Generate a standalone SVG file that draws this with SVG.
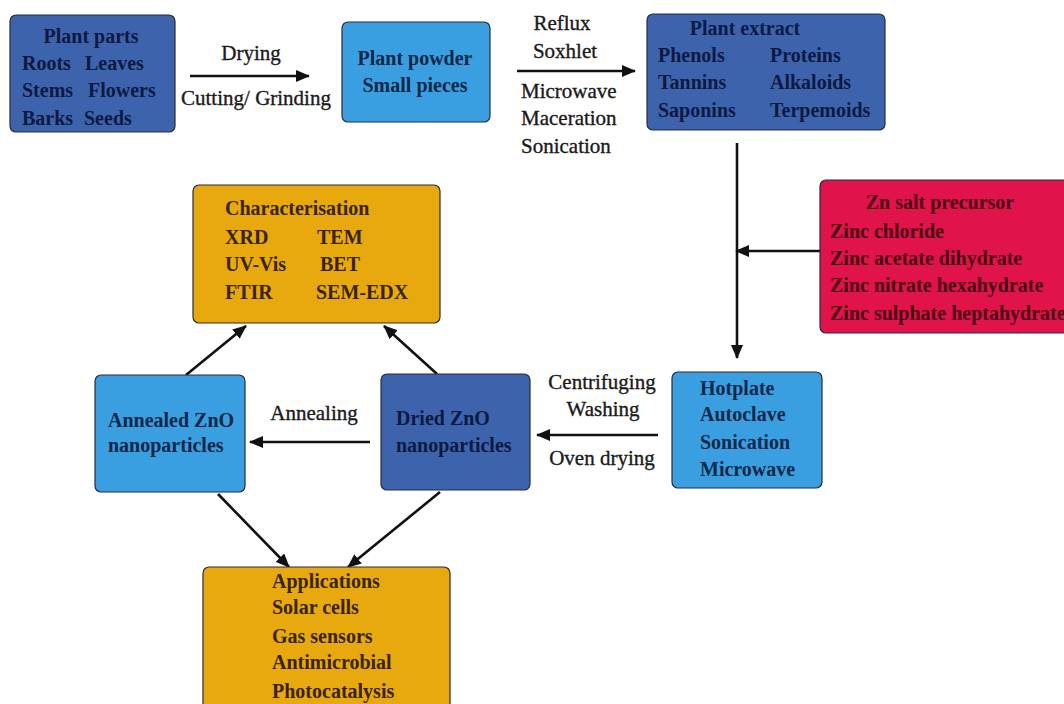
<svg xmlns="http://www.w3.org/2000/svg" width="1064" height="704" viewBox="0 0 1064 704">
<defs>
<marker id="ah" viewBox="0 0 14 12" refX="13" refY="6" markerWidth="14" markerHeight="12" markerUnits="userSpaceOnUse" orient="auto">
<path d="M0,0 L14,6 L0,12 Z" fill="#111"/>
</marker>
<style>
.box{stroke:#2a2a3a;stroke-width:1.2}
.db{fill:#3d63ad}
.lb{fill:#3a9fe0}
.gd{fill:#e8a90e}
.rd{fill:#e0134b}
text{font-family:"Liberation Serif","Times New Roman",serif;font-size:20px}
.bt{font-weight:bold}
.tdb{fill:#0c1a42}
.tlb{fill:#0c2748}
.tgd{fill:#3a2300}
.trd{fill:#4a0012}
.lab{fill:#1a1a1a;font-size:21px;stroke:#1a1a1a;stroke-width:0.35}
.c{text-anchor:middle}
.ln{stroke:#111;stroke-width:2.6;fill:none;marker-end:url(#ah)}
</style>
</defs>
<rect width="1064" height="704" fill="#ffffff"/>

<g id="connectors">
<line class="ln" x1="190" y1="76" x2="309" y2="76"/>
<line class="ln" x1="517" y1="71" x2="635" y2="71"/>
<line class="ln" x1="737" y1="143" x2="737" y2="358"/>
<line class="ln" x1="820" y1="251" x2="736" y2="251"/>
<line class="ln" x1="658" y1="435" x2="537" y2="435"/>
<line class="ln" x1="370" y1="442" x2="250" y2="442"/>
<line class="ln" x1="186" y1="375" x2="246" y2="326"/>
<line class="ln" x1="437" y1="374" x2="384" y2="326"/>
<line class="ln" x1="218" y1="494" x2="289" y2="567"/>
<line class="ln" x1="440" y1="492" x2="348" y2="567"/>
<text class="lab c" x="251" y="60">Drying</text>
<text class="lab c" x="256" y="105">Cutting/ Grinding</text>
<text class="lab c" x="562" y="30">Reflux</text>
<text class="lab c" x="565" y="58">Soxhlet</text>
<text class="lab" x="521" y="98">Microwave</text>
<text class="lab" x="521" y="125">Maceration</text>
<text class="lab" x="521" y="153">Sonication</text>
<text class="lab c" x="602" y="389">Centrifuging</text>
<text class="lab c" x="603" y="416">Washing</text>
<text class="lab c" x="602" y="465">Oven drying</text>
<text class="lab c" x="314" y="420">Annealing</text>
</g>

<g id="plant-parts">
<rect class="box db" x="10" y="15" width="165" height="117" rx="6"/>
<text class="bt tdb c" x="91" y="43">Plant parts</text>
<text class="bt tdb" x="22" y="70">Roots</text><text class="bt tdb" x="85" y="70">Leaves</text>
<text class="bt tdb" x="22" y="97">Stems</text><text class="bt tdb" x="88" y="97">Flowers</text>
<text class="bt tdb" x="22" y="125">Barks</text><text class="bt tdb" x="84" y="125">Seeds</text>
</g>

<g id="plant-powder">
<rect class="box lb" x="342" y="22" width="148" height="100" rx="6"/>
<text class="bt tlb c" x="415" y="65">Plant powder</text>
<text class="bt tlb c" x="415" y="92">Small pieces</text>
</g>

<g id="plant-extract">
<rect class="box db" x="647" y="14" width="238" height="116" rx="6"/>
<text class="bt tdb c" x="745" y="35">Plant extract</text>
<text class="bt tdb" x="658" y="62">Phenols</text><text class="bt tdb" x="770" y="62">Proteins</text>
<text class="bt tdb" x="658" y="89">Tannins</text><text class="bt tdb" x="770" y="89">Alkaloids</text>
<text class="bt tdb" x="658" y="117">Saponins</text><text class="bt tdb" x="770" y="117">Terpemoids</text>
</g>

<g id="zn-salt">
<rect class="box rd" x="820" y="180" width="252" height="153" rx="6"/>
<text class="bt trd c" x="940" y="209">Zn salt precursor</text>
<text class="bt trd" x="830" y="238">Zinc chloride</text>
<text class="bt trd" x="830" y="265">Zinc acetate dihydrate</text>
<text class="bt trd" x="830" y="292">Zinc nitrate hexahydrate</text>
<text class="bt trd" x="830" y="320">Zinc sulphate heptahydrate</text>
</g>

<g id="characterisation">
<rect class="box gd" x="193" y="185" width="247" height="138" rx="6"/>
<text class="bt tgd" x="225" y="215">Characterisation</text>
<text class="bt tgd" x="225" y="244">XRD</text><text class="bt tgd" x="317" y="244">TEM</text>
<text class="bt tgd" x="225" y="271">UV-Vis</text><text class="bt tgd" x="320" y="271">BET</text>
<text class="bt tgd" x="225" y="299">FTIR</text><text class="bt tgd" x="316" y="299">SEM-EDX</text>
</g>

<g id="annealed-zno">
<rect class="box lb" x="95" y="375" width="150" height="117" rx="6"/>
<text class="bt tlb" x="108" y="427">Annealed ZnO</text>
<text class="bt tlb" x="108" y="452">nanoparticles</text>
</g>

<g id="dried-zno">
<rect class="box db" x="381" y="374" width="149" height="116" rx="6"/>
<text class="bt tdb" x="396" y="425">Dried ZnO</text>
<text class="bt tdb" x="396" y="452">nanoparticles</text>
</g>

<g id="synthesis">
<rect class="box lb" x="672" y="372" width="150" height="116" rx="6"/>
<text class="bt tlb" x="700" y="395">Hotplate</text>
<text class="bt tlb" x="700" y="421">Autoclave</text>
<text class="bt tlb" x="700" y="449">Sonication</text>
<text class="bt tlb" x="700" y="476">Microwave</text>
</g>

<g id="applications">
<rect class="box gd" x="203" y="567" width="247" height="145" rx="6"/>
<text class="bt tgd" x="272" y="588">Applications</text>
<text class="bt tgd" x="272" y="614">Solar cells</text>
<text class="bt tgd" x="272" y="643">Gas sensors</text>
<text class="bt tgd" x="272" y="669">Antimicrobial</text>
<text class="bt tgd" x="272" y="698">Photocatalysis</text>
</g>
</svg>
